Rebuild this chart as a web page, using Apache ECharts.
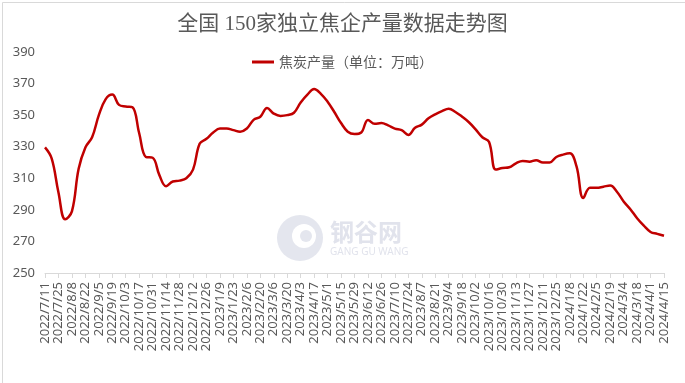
<!DOCTYPE html>
<html><head><meta charset="utf-8">
<script src="https://cdn.jsdelivr.net/npm/echarts@6/dist/echarts.min.js"></script>
<style>html,body{margin:0;padding:0;background:#fff}#c{width:685px;height:383px}</style>
</head><body><div id="c"></div>
<script>
const titleText = '全国 150家独立焦企产量数据走势图';
const seriesName = '焦炭产量（单位：万吨）';
const dates = [
'2022/7/11','2022/7/18','2022/7/25','2022/8/1','2022/8/8','2022/8/15','2022/8/22','2022/8/29','2022/9/5','2022/9/12',
'2022/9/19','2022/9/26','2022/10/3','2022/10/10','2022/10/17','2022/10/24','2022/10/31','2022/11/7','2022/11/14','2022/11/21',
'2022/11/28','2022/12/5','2022/12/12','2022/12/19','2022/12/26',
'2023/1/2','2023/1/9','2023/1/16','2023/1/23','2023/1/30','2023/2/6','2023/2/13','2023/2/20','2023/2/27','2023/3/6',
'2023/3/13','2023/3/20','2023/3/27','2023/4/3','2023/4/10','2023/4/17','2023/4/24','2023/5/1','2023/5/8','2023/5/15',
'2023/5/22','2023/5/29','2023/6/5','2023/6/12','2023/6/19','2023/6/26','2023/7/3','2023/7/10','2023/7/17','2023/7/24',
'2023/7/31','2023/8/7','2023/8/14','2023/8/21','2023/8/28','2023/9/4','2023/9/11','2023/9/18','2023/9/25','2023/10/2',
'2023/10/9','2023/10/16','2023/10/23','2023/10/30','2023/11/6','2023/11/13','2023/11/20','2023/11/27','2023/12/4','2023/12/11',
'2023/12/18','2023/12/25',
'2024/1/1','2024/1/8','2024/1/15','2024/1/22','2024/1/29','2024/2/5','2024/2/12','2024/2/19','2024/2/26','2024/3/4',
'2024/3/11','2024/3/18','2024/3/25','2024/4/1','2024/4/8','2024/4/15'
];
const output = [
329.6,322.5,301,284,289,316,329.5,336,350,360,
363,356.5,355.5,355,338.5,323.5,323,312,305,308,
308.5,310,315.5,332,335,
339,341.5,341.5,340.5,339.5,341.5,347,349,354.5,351,
349.5,350,351.5,358,363,366.5,363.5,358.5,352,345,
339.5,338,339,347,344.5,345,343.5,341.5,340.5,337.5,
342,344,348,350.5,352.5,354,352,349,345.5,341,
336,333,315.5,316.5,317,319.5,321,320.5,321.5,320,
320,323.5,
325,325.8,317.5,297.5,304,304,304.7,305.4,301.5,295.3,
290.4,284.7,280,276,274.8,273.6
];
const yTicks = {min: 250, max: 390, step: 20};

const chart = echarts.init(document.getElementById('c'), null, {renderer: 'canvas'});
chart.setOption({
  animation: false,
  backgroundColor: '#fff',
  title: {
    text: titleText, left: 'center', top: 9,
    textStyle: {fontFamily: "'Liberation Serif','Noto Sans CJK SC'", fontSize: 21, fontWeight: 'normal', color: '#595959'}
  },
  legend: {
    top: 50, left: 'center',
    itemWidth: 22, itemHeight: 3, itemGap: 6,
    icon: 'rect',
    textStyle: {fontFamily: "'Noto Sans CJK SC'", fontSize: 14, color: '#595959'},
    data: [seriesName]
  },
  graphic: [
    {type: 'rect', left: 0, top: 0, z: 0, silent: true,
     shape: {x: 0.5, y: 0.5, width: 684, height: 382}, style: {fill: 'none', stroke: '#d9d9d9', lineWidth: 1}},
    {type: 'group', z: 0, silent: true, children: [
      {type: 'circle', shape: {cx: 300, cy: 238, r: 23}, style: {fill: '#e4e6ee', stroke: null}},
      {type: 'circle', shape: {cx: 304, cy: 236, r: 12}, style: {fill: '#fff', stroke: null}},
      {type: 'circle', shape: {cx: 306, cy: 236, r: 6}, style: {fill: '#e4e6ee', stroke: null}},
      {type: 'text', x: 330, y: 220, style: {text: '钢谷网', font: "bold 24px 'Noto Sans CJK SC'", fill: '#e1e3ec'}},
      {type: 'text', x: 330, y: 247, style: {text: 'GANG GU WANG', font: "10px 'Noto Sans'", fill: '#e1e3ec'}}
    ]}
  ],
  grid: {left: 45, right: 21, top: 52, bottom: 110, containLabel: false},
  xAxis: {
    type: 'category', data: dates, boundaryGap: false,
    axisLine: {lineStyle: {color: '#d9d9d9', width: 1}},
    axisTick: {show: true, interval: 1, length: 5, lineStyle: {color: '#d9d9d9'}},
    axisLabel: {interval: 1, rotate: 90, margin: 9, fontFamily: "'Noto Sans'", fontSize: 13, color: '#595959'},
    splitLine: {show: false}
  },
  yAxis: {
    type: 'value', min: yTicks.min, max: yTicks.max, interval: yTicks.step,
    axisLine: {show: false}, axisTick: {show: false},
    axisLabel: {margin: 10, fontFamily: "'Noto Sans'", fontSize: 13, color: '#595959'},
    splitLine: {show: false}
  },
  series: [{
    name: seriesName, type: 'line', data: output, smooth: 0.4,
    showSymbol: false, symbol: 'none',
    lineStyle: {color: '#c00000', width: 2.5},
    itemStyle: {color: '#c00000'}, z: 5
  }]
});
</script></body></html>
